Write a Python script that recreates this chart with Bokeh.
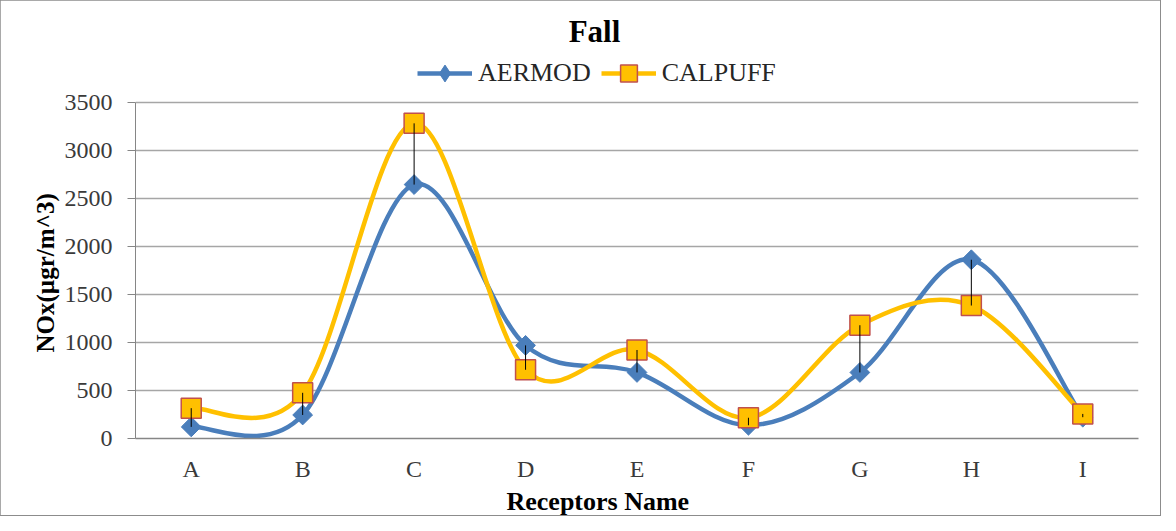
import numpy as np
from bokeh.plotting import figure
from bokeh.models import Range1d, FixedTicker, Legend, LegendItem, ColumnDataSource, Title, Label
from bokeh.embed import file_html
from bokeh.resources import INLINE

# ---- data ----
categories = ["A", "B", "C", "D", "E", "F", "G", "H", "I"]
aermod = [121, 245, 2645, 970, 688, 138, 688, 1862, 222]
calpuff = [316, 476, 3283, 716, 922, 216, 1180, 1385, 256]
y_ticks = [0, 500, 1000, 1500, 2000, 2500, 3000, 3500]

FONT = "Liberation Serif"
BLUE = "#4a7ebb"
GOLD = "#ffc000"
xs = list(range(1, len(categories) + 1))

# layout (pixels in the figure)
W, H = 1160, 515
LEFT, RIGHT, TOP, BOTTOM = 135, 1138, 2, 438      # frame edges
PLOT_TOP = 102                                    # where the 3500 gridline sits
y_top = y_ticks[-1] * (BOTTOM - TOP) / (BOTTOM - PLOT_TOP)


def bezier_segments(x, y):
    n = len(x)
    d = dict(x0=[], y0=[], x1=[], y1=[], cx0=[], cy0=[], cx1=[], cy1=[])
    for i in range(n - 1):
        ip = max(i - 1, 0)
        inx = min(i + 2, n - 1)
        d["x0"].append(x[i]); d["y0"].append(y[i])
        d["x1"].append(x[i + 1]); d["y1"].append(y[i + 1])
        d["cx0"].append(x[i] + (x[i + 1] - x[ip]) / 6.0)
        d["cy0"].append(y[i] + (y[i + 1] - y[ip]) / 6.0)
        d["cx1"].append(x[i + 1] - (x[inx] - x[i]) / 6.0)
        d["cy1"].append(y[i + 1] - (y[inx] - y[i]) / 6.0)
    return ColumnDataSource(d)


p = figure(width=W, height=H, title=None,
           x_range=Range1d(0.5, len(categories) + 0.5), y_range=Range1d(0, y_top),
           output_backend="svg", toolbar_location=None,
           min_border_left=LEFT, min_border_right=W - RIGHT,
           min_border_top=TOP, min_border_bottom=H - BOTTOM)
p.styles = {"outline": "2px solid #8c8c8c", "outline-offset": "-1px"}
p.outline_line_color = None
p.background_fill_color = "white"
p.border_fill_color = "white"

# grid
p.xgrid.visible = False
p.ygrid.grid_line_color = "#a6a6a6"
p.ygrid.grid_line_width = 1.5
p.ygrid.ticker = FixedTicker(ticks=y_ticks)

# y axis
p.yaxis.ticker = FixedTicker(ticks=y_ticks)
p.yaxis.bounds = (y_ticks[0], y_ticks[-1])
p.yaxis.axis_line_color = "#868686"
p.yaxis.major_tick_line_color = "#868686"
p.yaxis.major_tick_out = 8
p.yaxis.major_tick_in = 0
p.yaxis.minor_tick_line_color = None
p.yaxis.major_label_text_font = FONT
p.yaxis.major_label_text_font_size = "24px"
p.yaxis.major_label_text_color = "#3a3a3a"
p.yaxis.major_label_standoff = 15

# x axis
p.xaxis.ticker = FixedTicker(ticks=xs)
p.xaxis.major_label_overrides = {x: c for x, c in zip(xs, categories)}
p.xaxis.axis_line_color = "#868686"
p.xaxis.axis_line_width = 1.5
p.xaxis.major_tick_line_color = None
p.xaxis.minor_tick_line_color = None
p.xaxis.major_label_text_font = FONT
p.xaxis.major_label_text_font_size = "24px"
p.xaxis.major_label_text_color = "#3a3a3a"
p.xaxis.major_label_standoff = 11

# smoothed series lines
src_a = bezier_segments(xs, aermod)
src_c = bezier_segments(xs, calpuff)
p.bezier(x0="x0", y0="y0", x1="x1", y1="y1", cx0="cx0", cy0="cy0", cx1="cx1", cy1="cy1",
         source=src_a, line_color=BLUE, line_width=4.5, line_cap="round")
p.scatter(xs, aermod, marker="square", angle=np.pi / 4, size=14,
          fill_color=BLUE, line_color=BLUE, line_width=1)
p.bezier(x0="x0", y0="y0", x1="x1", y1="y1", cx0="cx0", cy0="cy0", cx1="cx1", cy1="cy1",
         source=src_c, line_color=GOLD, line_width=4.5, line_cap="round")
p.scatter(xs, calpuff, marker="square", size=20,
          fill_color=GOLD, line_color="#c0504d", line_width=1.5)

# high-low lines
p.segment(x0=xs, y0=aermod, x1=xs, y1=calpuff, line_color="black", line_width=1)

# legend (legend-only renderers holding a single missing value)
nan = [float("nan")]
la = p.line(nan, nan, line_color=BLUE, line_width=4.5)
ma = p.scatter(nan, nan, marker="diamond", fill_color=BLUE, line_color=BLUE)
lc = p.line(nan, nan, line_color=GOLD, line_width=4.5)
mc = p.scatter(nan, nan, marker="square", fill_color=GOLD, line_color="#c0504d", line_width=1.5)
legend = Legend(items=[LegendItem(label="AERMOD", renderers=[la, ma]),
                       LegendItem(label="CALPUFF", renderers=[lc, mc])],
                orientation="horizontal", location=(282, BOTTOM - 94),
                glyph_width=55, glyph_height=42, label_standoff=6, spacing=10,
                padding=0, margin=0, border_line_color=None, background_fill_alpha=0,
                label_text_font=FONT, label_text_font_size="26px", label_text_color="#262626")
p.add_layout(legend, "center")

# chart title
p.add_layout(Label(x=594 - LEFT, y=BOTTOM - 31, x_units="screen", y_units="screen", text="Fall",
                   text_font=FONT, text_font_size="31px", text_font_style="bold",
                   text_align="center", text_baseline="middle", text_color="black"))

# axis titles
p.add_layout(Title(text="NOx(µgr/m^3)", align="left", offset=86, standoff=6,
                   text_font=FONT, text_font_size="25px", text_font_style="bold",
                   text_color="black"), "left")
p.add_layout(Title(text="Receptors Name", align="left", offset=371, standoff=0,
                   text_font=FONT, text_font_size="26px", text_font_style="bold",
                   text_color="black"), "below")

open("out.html", "w").write(file_html(p, INLINE))
